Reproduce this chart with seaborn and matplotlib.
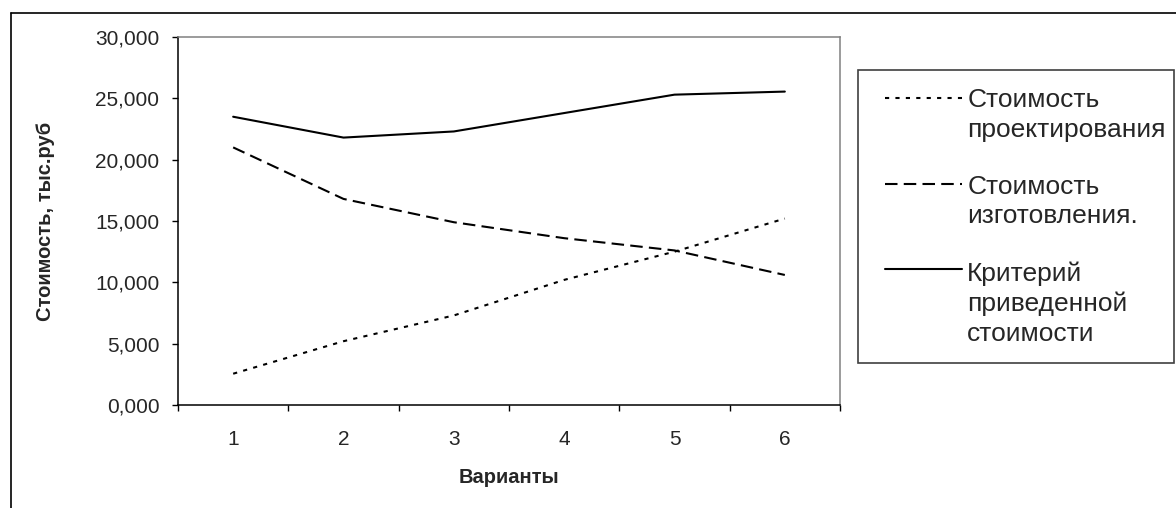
import numpy as np
import pandas as pd
import matplotlib
matplotlib.use("Agg")
import matplotlib.pyplot as plt
import matplotlib.ticker as mticker
from matplotlib.lines import Line2D
from matplotlib.patches import Rectangle
from matplotlib.legend_handler import HandlerLine2D
import seaborn as sns

# ── Data (тыс. руб) ──────────────────────────────────────────────
variants = [1, 2, 3, 4, 5, 6]
design_cost = [2.55, 5.2, 7.3, 10.2, 12.5, 15.2]
manufacture_cost = [21.0, 16.8, 14.9, 13.6, 12.6, 10.6]
total_criterion = [23.5, 21.8, 22.3, 23.8, 25.3, 25.55]

series_names = ["Стоимость\nпроектирования",
                "Стоимость\nизготовления.",
                "Критерий\nприведенной\nстоимости"]
y_ticks = [0, 5, 10, 15, 20, 25, 30]

df = pd.DataFrame({
    "variant": variants * 3,
    "cost": design_cost + manufacture_cost + total_criterion,
    "series": sum([[s] * len(variants) for s in series_names], []),
})

# ── Style ────────────────────────────────────────────────────────
sns.set_theme(style="white")
plt.rcParams["font.family"] = ["Liberation Sans", "DejaVu Sans"]

LW = 1.5
dash_map = {series_names[0]: (2, 3),
            series_names[1]: (6, 3),
            series_names[2]: ""}

fig = plt.figure(figsize=(11.76, 5.08), dpi=100)
ax = fig.add_axes([178 / 1176, 1 - 405 / 508, (840 - 178) / 1176, (405 - 37) / 508])

sns.lineplot(data=df, x="variant", y="cost", style="series",
             dashes=dash_map, color="black", linewidth=LW,
             legend=False, ax=ax)

# axes
ax.set_xlim(0.5, 6.5)
ax.set_ylim(0, 30)
ax.set_yticks(y_ticks)
ax.yaxis.set_major_formatter(
    mticker.FuncFormatter(lambda v, _: f"{v:.3f}".replace(".", ",")))
ax.set_xticks(variants)
ax.set_xticks(np.arange(0.5, 7, 1), minor=True)
ax.tick_params(axis="x", which="major", length=0, pad=18, labelsize=15)
ax.tick_params(axis="x", which="minor", length=4.5, width=1,
               direction="out", bottom=True, color="black")
ax.tick_params(axis="y", which="major", length=4.5, width=1,
               direction="out", left=True, pad=9, labelsize=15, color="black")

ax.set_xlabel("Варианты", fontsize=14.5, fontweight="bold", labelpad=14)
ax.set_ylabel("Стоимость, тыс.руб", fontsize=14.5, fontweight="bold", labelpad=29)

for side in ["left", "bottom"]:
    ax.spines[side].set_color("black")
    ax.spines[side].set_linewidth(1.1)
for side in ["top", "right"]:
    ax.spines[side].set_color("#808080")
    ax.spines[side].set_linewidth(1.1)
ax.grid(False)

# ── Outer chart border (top & left visible) ──────────────────────
fig.add_artist(Line2D([11 / 1176, 11 / 1176], [0, 1 - 13 / 508],
                      transform=fig.transFigure, color="black", lw=1.2))
fig.add_artist(Line2D([11 / 1176, 1], [1 - 13 / 508, 1 - 13 / 508],
                      transform=fig.transFigure, color="black", lw=1.2))

# ── Legend box ───────────────────────────────────────────────────
fig.add_artist(Rectangle((858 / 1176, 1 - 363 / 508),
                         (1174 - 858) / 1176, (363 - 70) / 508,
                         transform=fig.transFigure, facecolor="white",
                         edgecolor="#404040", lw=1.2))

LEG_FS = 19
LINE_STEP = 1.33  # line step in units of fontsize


class FirstLineHandler(HandlerLine2D):
    """Put the legend sample at the first line of a multi-line label."""

    def __init__(self, nlines, **kw):
        super().__init__(**kw)
        self.nlines = nlines

    def create_artists(self, legend, orig_handle, xdescent, ydescent,
                       width, height, fontsize, trans):
        arts = super().create_artists(legend, orig_handle, xdescent, ydescent,
                                      width, height, fontsize, trans)
        shift = (self.nlines - 1) / 2 * LINE_STEP * fontsize
        for a in arts:
            a.set_ydata(np.asarray(a.get_ydata()) + shift)
        return arts


handles = []
for name in series_names:
    d = dash_map[name]
    h = Line2D([], [], color="black", lw=LW)
    if d:
        h.set_dashes(d)
    handles.append(h)

leg = fig.legend(handles, series_names, loc="upper left",
                 bbox_to_anchor=(885 / 1176, 1 - 88 / 508),
                 frameon=False, fontsize=LEG_FS, borderpad=0,
                 borderaxespad=0, handlelength=2.9, handletextpad=0.22,
                 labelspacing=1.25,
                 handler_map={h: FirstLineHandler(n.count("\n") + 1)
                              for h, n in zip(handles, series_names)})
for t in leg.get_texts():
    t.set_linespacing(1.3)

fig.savefig("out.png", dpi=100)
